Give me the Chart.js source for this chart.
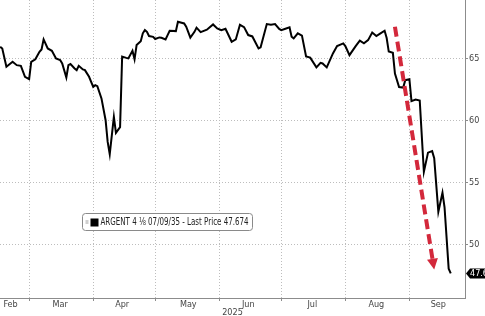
<!DOCTYPE html>
<html>
<head>
<meta charset="utf-8">
<script src="https://cdn.jsdelivr.net/npm/chart.js@4"></script>
<style>
  html, body { margin: 0; padding: 0; background: #fff; }
  canvas { display: block; }
</style>
</head>
<body>
<canvas id="bondChart" width="485" height="316"></canvas>
<script>
// ARGENT 4 1/8 07/09/35 - price history
var seriesName = "ARGENT 4 \u215B 07/09/35";

var dates = [
  "2025-02-15", "2025-02-16", "2025-02-18", "2025-02-21", "2025-02-23", "2025-02-25", "2025-02-27",
  "2025-03-01", "2025-03-02", "2025-03-04", "2025-03-06", "2025-03-07", "2025-03-08", "2025-03-10",
  "2025-03-12", "2025-03-14", "2025-03-16", "2025-03-17", "2025-03-19", "2025-03-20", "2025-03-21",
  "2025-03-23", "2025-03-24", "2025-03-25", "2025-03-27", "2025-03-28", "2025-03-30",
  "2025-04-01", "2025-04-02", "2025-04-03", "2025-04-05", "2025-04-07", "2025-04-08", "2025-04-09",
  "2025-04-11", "2025-04-12", "2025-04-14", "2025-04-15", "2025-04-17", "2025-04-18", "2025-04-20",
  "2025-04-21", "2025-04-22", "2025-04-24", "2025-04-25", "2025-04-26", "2025-04-27", "2025-04-28",
  "2025-04-30",
  "2025-05-01", "2025-05-03", "2025-05-04", "2025-05-06", "2025-05-07", "2025-05-08", "2025-05-11",
  "2025-05-12", "2025-05-15", "2025-05-16", "2025-05-18", "2025-05-20", "2025-05-21", "2025-05-23",
  "2025-05-26", "2025-05-29", "2025-05-31",
  "2025-06-02", "2025-06-04", "2025-06-07", "2025-06-09", "2025-06-11", "2025-06-13", "2025-06-15",
  "2025-06-17", "2025-06-20", "2025-06-21", "2025-06-24", "2025-06-26", "2025-06-28", "2025-06-30",
  "2025-07-01", "2025-07-03", "2025-07-05", "2025-07-06", "2025-07-07", "2025-07-09", "2025-07-11",
  "2025-07-13", "2025-07-15", "2025-07-18", "2025-07-20", "2025-07-21", "2025-07-23", "2025-07-26",
  "2025-07-28", "2025-07-31",
  "2025-08-01", "2025-08-03", "2025-08-05", "2025-08-06", "2025-08-08", "2025-08-10", "2025-08-12",
  "2025-08-14", "2025-08-16", "2025-08-18", "2025-08-20", "2025-08-21", "2025-08-22", "2025-08-24",
  "2025-08-25", "2025-08-27", "2025-08-29", "2025-08-30",
  "2025-09-01", "2025-09-02", "2025-09-04", "2025-09-06", "2025-09-08", "2025-09-10", "2025-09-12",
  "2025-09-13", "2025-09-15", "2025-09-17", "2025-09-18", "2025-09-20", "2025-09-21"
];

var prices = [
  65.95, 65.82, 64.34, 64.74, 64.47, 64.42, 63.53,
  63.34, 64.74, 64.94, 65.55, 65.74, 66.55, 65.82,
  65.63, 65.02, 64.88, 64.61, 63.48, 64.47, 64.56,
  64.21, 64.07, 64.42, 64.13, 64.07, 63.53,
  62.72, 62.86, 62.78, 61.79, 60.03, 58.28, 57.29,
  60.30, 59.01, 59.47, 65.16, 65.06, 65.02, 65.63,
  64.94, 66.09, 66.41, 67.04, 67.30, 67.16, 66.82,
  66.76,
  66.58, 66.71, 66.68, 66.55, 66.90, 67.25, 67.22,
  67.97, 67.84, 67.58, 66.70, 67.16, 67.50, 67.14,
  67.33, 67.76, 67.44,
  67.30, 67.41, 66.36, 66.55, 67.73, 67.54, 66.90,
  66.79, 65.82, 65.91, 67.79, 67.73, 67.79, 67.40,
  67.30, 67.41, 67.52, 66.76, 66.63, 67.04, 66.86,
  65.18, 65.08, 64.29, 64.66, 64.61, 64.29, 65.42,
  66.01, 66.23,
  66.01, 65.28, 65.77, 66.01, 66.45, 66.23, 66.49,
  67.10, 66.82, 67.04, 67.25, 66.66, 65.57, 65.47,
  63.80, 62.70, 62.66, 63.26,
  63.34, 61.57, 61.69, 61.62, 55.86, 57.41, 57.53,
  56.96, 52.63, 54.18, 53.00, 48.05, 47.674
];

var lastPrice = prices[prices.length - 1];

var monthStarts = ["2025-03-01", "2025-04-01", "2025-05-01", "2025-06-01", "2025-07-01", "2025-08-01", "2025-09-01"];
var monthLabelDates = ["2025-02-20", "2025-03-16", "2025-04-15", "2025-05-17", "2025-06-15", "2025-07-16", "2025-08-16", "2025-09-15"];
var monthNames = ["Feb", "Mar", "Apr", "May", "Jun", "Jul", "Aug", "Sep"];
var yearLabel = "2025";
var yTicks = [50, 55, 60, 65];

// red arrow annotation: from [date, price] to [date, price]
var arrowFrom = ["2025-08-25", 67.57];
var arrowTo = ["2025-09-13", 47.97];

function dayNum(s) {
  var p = s.split("-");
  return (Date.UTC(+p[0], +p[1] - 1, +p[2]) - Date.UTC(2025, 0, 1)) / 864e5;
}

var FONT = '"Liberation Sans Narrow", "DejaVu Sans Condensed", "Liberation Sans", sans-serif';
var GRID = "#bdbdbd";
var AXIS = "#8c8c8c";
var RED = "#d3283b";

var boundaryDays = monthStarts.map(dayNum);
var labelDays = monthLabelDates.map(dayNum);

function isBoundary(v) {
  return boundaryDays.indexOf(v) >= 0;
}

function noPadding(s) {
  s.paddingTop = 0;
  s.paddingBottom = 0;
  s.paddingLeft = 0;
  s.paddingRight = 0;
}

var overlay = {
  id: "overlay",
  afterDatasetsDraw: function (chart) {
    var ctx = chart.ctx;
    var xs = chart.scales.x, ys = chart.scales.y;
    var x1 = xs.getPixelForValue(dayNum(arrowFrom[0])), y1 = ys.getPixelForValue(arrowFrom[1]);
    var x2 = xs.getPixelForValue(dayNum(arrowTo[0])), y2 = ys.getPixelForValue(arrowTo[1]);
    var dx = x2 - x1, dy = y2 - y1;
    var len = Math.sqrt(dx * dx + dy * dy);
    var ux = dx / len, uy = dy / len;
    var head = 11, half = 5.5;
    var bx = x2 - ux * head, by = y2 - uy * head;

    ctx.save();
    ctx.strokeStyle = RED;
    ctx.lineWidth = 4;
    ctx.setLineDash([10, 5]);
    ctx.beginPath();
    ctx.moveTo(x1, y1);
    ctx.lineTo(bx + ux, by + uy);
    ctx.stroke();
    ctx.setLineDash([]);
    ctx.fillStyle = RED;
    ctx.beginPath();
    ctx.moveTo(x2, y2);
    ctx.lineTo(bx - uy * half, by + ux * half);
    ctx.lineTo(bx + uy * half, by - ux * half);
    ctx.closePath();
    ctx.fill();
    ctx.restore();
  },
  afterDraw: function (chart) {
    var ctx = chart.ctx;
    var area = chart.chartArea;
    var ys = chart.scales.y;

    // legend box
    var lx = area.left + 82.5, ly = area.top + 213.5, lw = 170, lh = 17;
    ctx.save();
    ctx.fillStyle = "#fff";
    ctx.strokeStyle = "#8a8a8a";
    ctx.lineWidth = 1;
    ctx.beginPath();
    ctx.roundRect(lx, ly, lw, lh, 3);
    ctx.fill();
    ctx.stroke();
    // small gray icon + black swatch
    ctx.fillStyle = "#a0a0a0";
    ctx.fillRect(lx + 3, ly + 7, 3, 1);
    ctx.fillRect(lx + 3, ly + 9, 3, 1);
    ctx.fillStyle = "#000";
    ctx.fillRect(lx + 8, ly + 5, 8, 8);
    ctx.fillStyle = "#222";
    ctx.font = "10px " + FONT;
    ctx.textBaseline = "middle";
    ctx.textAlign = "left";
    ctx.fillText(seriesName + " - Last Price " + lastPrice.toFixed(3), lx + 18, ly + lh / 2 + 0.5, lw - 22);

    // last price tag on the right axis
    var py = Math.round(ys.getPixelForValue(lastPrice)) + 0.5;
    var tx = area.right + 1;
    ctx.fillStyle = "#000";
    ctx.beginPath();
    ctx.moveTo(tx, py);
    ctx.lineTo(tx + 4, py - 5);
    ctx.lineTo(tx + 40, py - 5);
    ctx.lineTo(tx + 40, py + 5);
    ctx.lineTo(tx + 4, py + 5);
    ctx.closePath();
    ctx.fill();
    ctx.fillStyle = "#fff";
    ctx.font = "9px " + FONT;
    ctx.fillText(lastPrice.toFixed(3), tx + 4, py + 0.5);
    ctx.restore();
  }
};

new Chart("bondChart", {
  type: "line",
  data: {
    datasets: [
      {
        label: seriesName,
        data: dates.map(function (d, i) { return { x: dayNum(d), y: prices[i] }; }),
        borderColor: "#000",
        borderWidth: 2,
        pointRadius: 0,
        tension: 0,
        fill: false
      }
    ]
  },
  options: {
    responsive: false,
    animation: false,
    devicePixelRatio: 1,
    layout: { padding: 0 },
    plugins: {
      legend: { display: false },
      tooltip: { enabled: false }
    },
    scales: {
      x: {
        type: "linear",
        min: dayNum("2025-02-14") + 0.9,
        max: dayNum("2025-09-27") + 0.9,
        afterBuildTicks: function (s) {
          var vals = boundaryDays.concat(labelDays).sort(function (a, b) { return a - b; });
          s.ticks = vals.map(function (v) { return { value: v }; });
        },
        afterFit: function (s) { s.height = 18; noPadding(s); },
        ticks: {
          autoSkip: false,
          maxRotation: 0,
          padding: -1,
          color: "#444",
          font: { family: FONT, size: 9, lineHeight: 1 },
          callback: function (v) {
            var i = labelDays.indexOf(v);
            return i >= 0 ? monthNames[i] : "";
          }
        },
        grid: {
          color: function (c) { return c.tick && isBoundary(c.tick.value) ? GRID : "rgba(0,0,0,0)"; },
          tickColor: function (c) { return c.tick && isBoundary(c.tick.value) ? AXIS : "rgba(0,0,0,0)"; },
          tickLength: 3,
          lineWidth: 1
        },
        border: { display: true, color: AXIS, width: 1, dash: [1, 2] },
        title: {
          display: true,
          text: yearLabel,
          color: "#444",
          font: { family: FONT, size: 9, lineHeight: 1 },
          padding: { top: 0, bottom: -1 }
        }
      },
      y: {
        position: "right",
        min: 45.68,
        max: 69.73,
        afterBuildTicks: function (s) {
          s.ticks = yTicks.map(function (v) { return { value: v }; });
        },
        afterFit: function (s) { s.width = 20; noPadding(s); },
        ticks: {
          padding: 1,
          color: "#444",
          font: { family: FONT, size: 9 }
        },
        grid: {
          color: GRID,
          tickColor: AXIS,
          tickLength: 3,
          lineWidth: 1
        },
        border: { display: true, color: AXIS, width: 1, dash: [1, 2] }
      }
    }
  },
  plugins: [overlay]
});
</script>
</body>
</html>
